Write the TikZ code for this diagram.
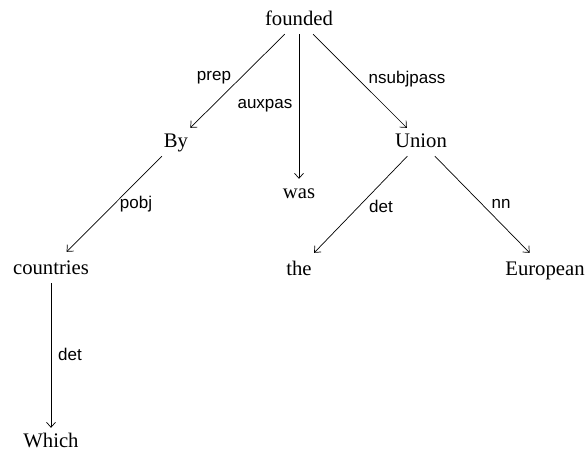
\documentclass[tikz,border=0pt]{standalone}
\usepackage{fontspec}
\setmainfont{Liberation Serif}
\newfontfamily\lblfont{Liberation Sans}
\usetikzlibrary{arrows.meta}
\tikzset{
  word/.style={font=\fontsize{20.7}{24}\selectfont, text height=14pt, text depth=4pt, inner xsep=3pt, inner ysep=5pt},
  lowword/.style={word, text height=17pt},
  lbl/.style={font=\lblfont\fontsize{17}{20}\selectfont, inner sep=0pt, anchor=base},
  dep/.style={line width=0.7pt, -{Straight Barb[length=5pt,width=9pt]}}
}
\begin{document}
\begin{tikzpicture}[x=1pt,y=-1pt]
\useasboundingbox (0,0) rectangle (588,451);
\node[word] (founded) at (299,20) {founded};
\node[word] (By) at (176,142) {By};
\node[word] (was) at (299,193) {was};
\node[word] (Union) at (421,142) {Union};
\node[lowword] (countries) at (51,267.5) {countries};
\node[lowword] (the) at (299,268.5) {the};
\node[lowword] (European) at (545,268.5) {European};
\node[word] (Which) at (51,442) {Which};

\draw[dep] (founded) -- (By);
\draw[dep] (founded) -- (was);
\draw[dep] (founded) -- (Union);
\draw[dep] (By) -- (countries);
\draw[dep] (Union) -- (the);
\draw[dep] (Union) -- (European);
\draw[dep] (countries) -- (Which);

\node[lbl] (lprep) at (214,80) {prep};
\node[lbl] (lauxpas) at (265,108) {auxpas};
\node[lbl] (lnsubjpass) at (407,83) {nsubjpass};
\node[lbl] (lpobj) at (136,208) {pobj};
\node[lbl] (ldet1) at (70,360) {det};
\node[lbl] (ldet2) at (381,212) {det};
\node[lbl] (lnn) at (501,208) {nn};
\end{tikzpicture}
\end{document}
